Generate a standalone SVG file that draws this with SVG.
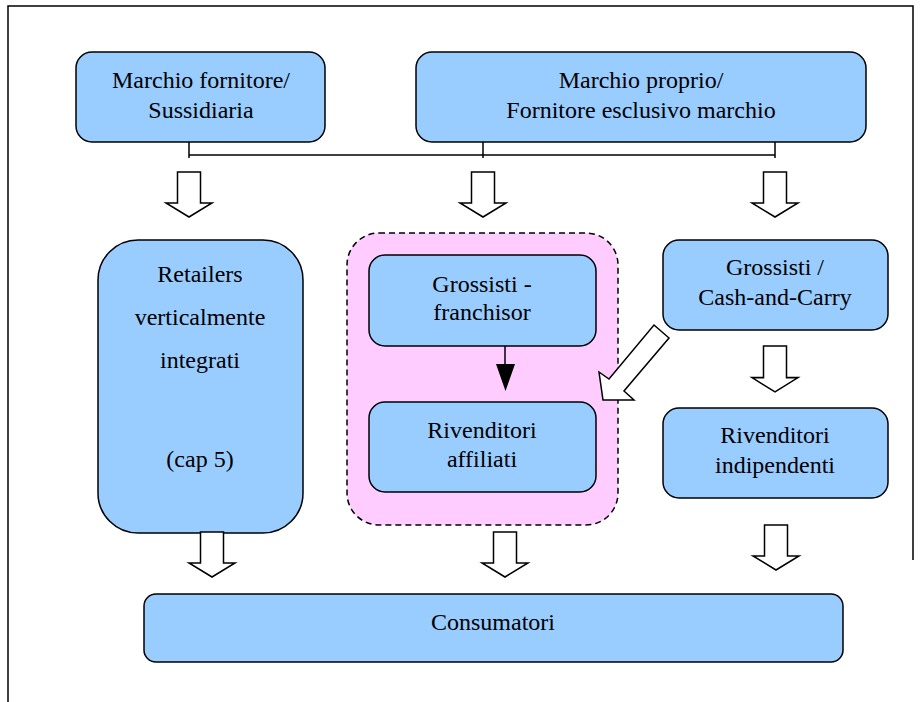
<svg xmlns="http://www.w3.org/2000/svg" width="922" height="702" viewBox="0 0 922 702">
<style>
.box{fill:#99CCFF;stroke:#000;stroke-width:1.5}
.grp{fill:#FFCCFF;stroke:#000;stroke-width:1.5;stroke-dasharray:6,4}
.t{font-family:"Liberation Serif","Times New Roman",serif;font-size:24px;fill:#000;text-anchor:middle}
.blk{fill:#fff;stroke:#000;stroke-width:1.5;stroke-linejoin:miter}
.ln{stroke:#000;stroke-width:1.5;fill:none}
</style>
<defs>
<path id="dn" d="M-11.5,0 H11.5 V31 H23 L0,45 L-23,31 H-11.5 Z"/>
</defs>
<g id="frame">
<path class="ln" d="M8,702 V6 H913 V560"/>
</g>
<g id="group-franchising">
<rect class="grp" x="347" y="233" width="271" height="292" rx="32"/>
</g>
<g id="n-marchio-fornitore">
<rect class="box" x="76" y="52" width="249" height="90" rx="16"/>
<text class="t" x="201" y="88">Marchio fornitore/</text>
<text class="t" x="201" y="118">Sussidiaria</text>
</g>
<g id="n-marchio-proprio">
<rect class="box" x="416" y="52" width="450" height="90" rx="16"/>
<text class="t" x="641" y="88">Marchio proprio/</text>
<text class="t" x="641" y="118">Fornitore esclusivo marchio</text>
</g>
<g id="n-retailers">
<rect class="box" x="98" y="240" width="205" height="293" rx="40"/>
<text class="t" x="200" y="282">Retailers</text>
<text class="t" x="200" y="325">verticalmente</text>
<text class="t" x="200" y="368">integrati</text>
<text class="t" x="200" y="467">(cap 5)</text>
</g>
<g id="n-grossisti-franchisor">
<rect class="box" x="369" y="255" width="227" height="91" rx="16"/>
<text class="t" x="482" y="292">Grossisti -</text>
<text class="t" x="482" y="320">franchisor</text>
</g>
<g id="n-rivenditori-affiliati">
<rect class="box" x="369" y="402" width="227" height="90" rx="16"/>
<text class="t" x="482" y="438">Rivenditori</text>
<text class="t" x="482" y="467">affiliati</text>
</g>
<g id="n-grossisti-cc">
<rect class="box" x="663" y="240" width="225" height="90" rx="16"/>
<text class="t" x="775" y="275">Grossisti /</text>
<text class="t" x="775" y="305">Cash-and-Carry</text>
</g>
<g id="n-rivenditori-indipendenti">
<rect class="box" x="663" y="408" width="225" height="90" rx="16"/>
<text class="t" x="775" y="443">Rivenditori</text>
<text class="t" x="775" y="473">indipendenti</text>
</g>
<g id="n-consumatori">
<rect class="box" x="144" y="594" width="699" height="68" rx="12"/>
<text class="t" x="493" y="630">Consumatori</text>
</g>
<g id="connectors">
<path class="ln" d="M189,142 V158 M483,142 V158 M775,142 V158 M189,155 H775"/>
<use href="#dn" class="blk" transform="translate(189,172)"/>
<use href="#dn" class="blk" transform="translate(483,172)"/>
<use href="#dn" class="blk" transform="translate(775,172)"/>
<use href="#dn" class="blk" transform="translate(775,346) scale(1,1.02) translate(0,0)"/>
<path class="blk" d="M654,325 L669,338 L624,391 L634,400 L603,400 L599,372 L609,379 Z"/>
<line class="ln" x1="505" y1="346" x2="505" y2="365"/>
<path d="M496,364 H515 L505.5,391 Z" fill="#000"/>
<use href="#dn" class="blk" transform="translate(212,532)"/>
<use href="#dn" class="blk" transform="translate(505,532)"/>
<use href="#dn" class="blk" transform="translate(776,525)"/>
</g>
</svg>
